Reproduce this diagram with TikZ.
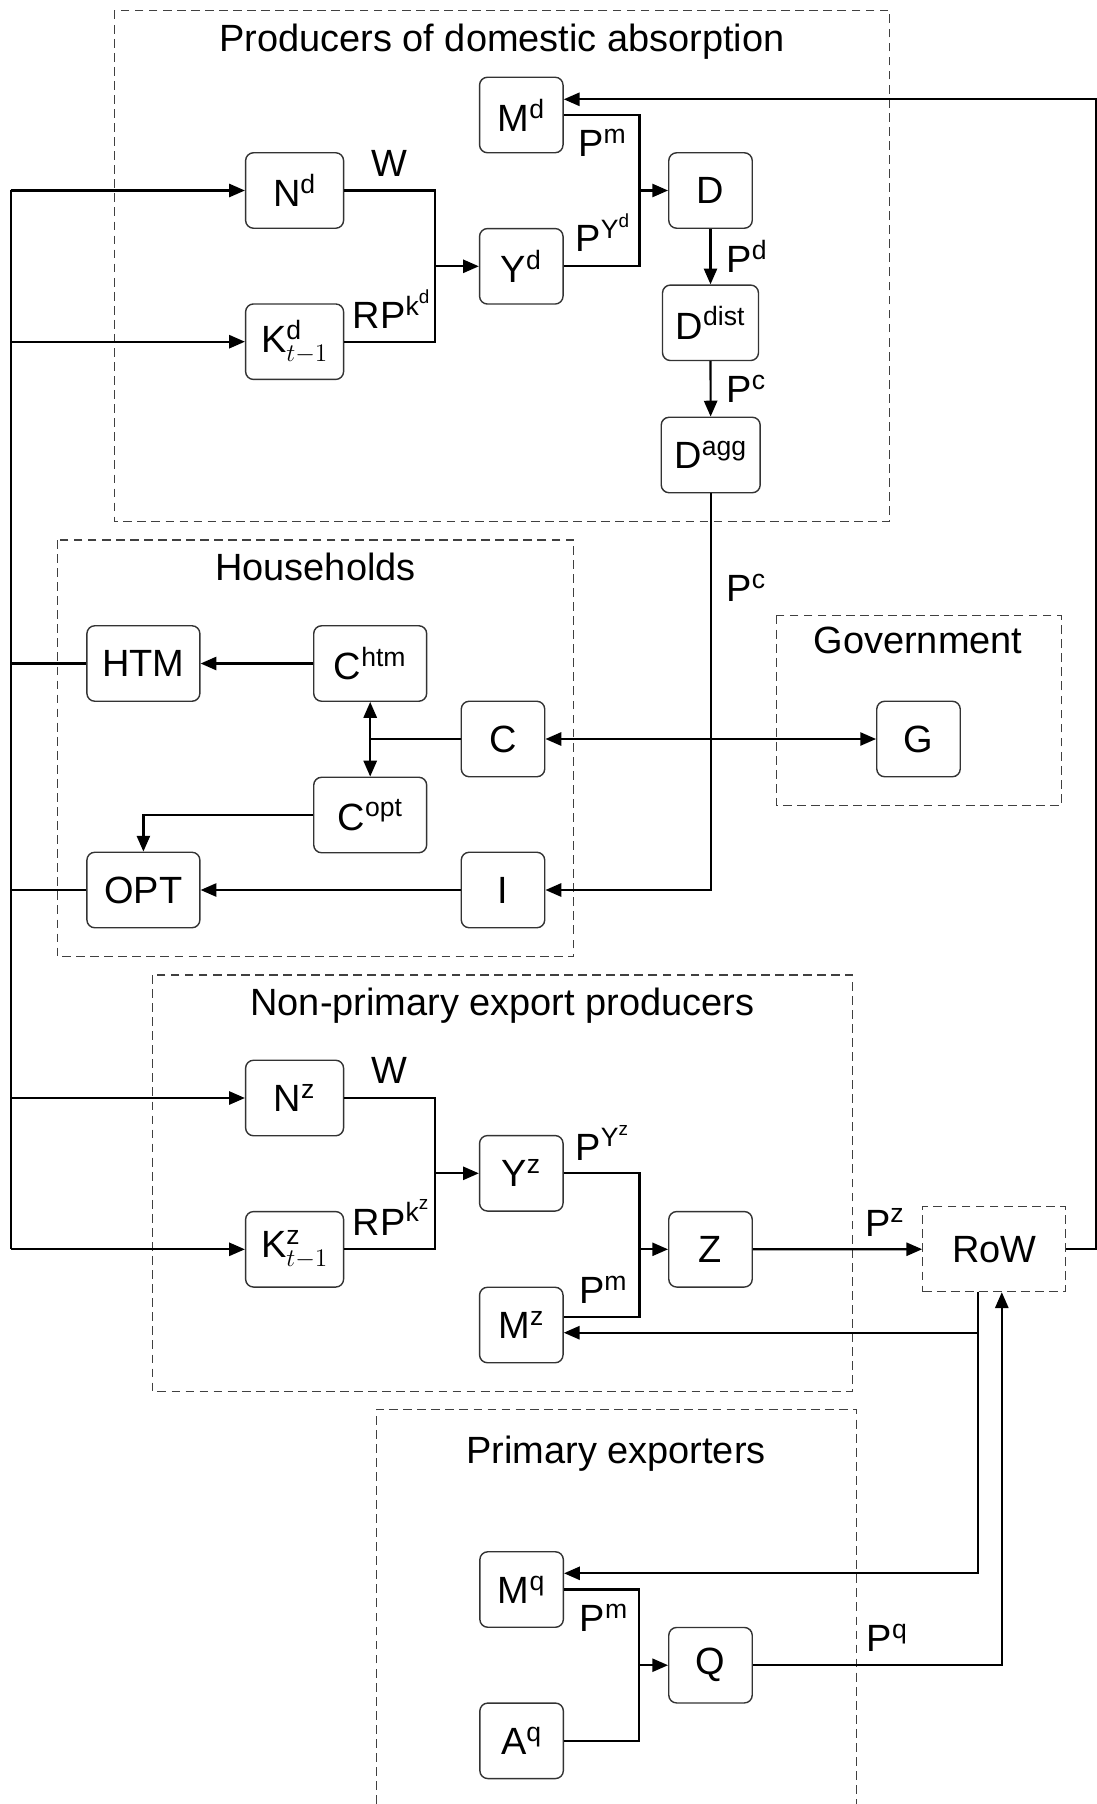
\documentclass[tikz,border=0pt]{standalone}
\usepackage{amsmath}
\usepackage[no-math]{fontspec}
\setmainfont{Liberation Sans}
\usetikzlibrary{arrows.meta,calc}
\newcommand{\up}[1]{$^{\text{#1}}$}
\begin{document}
\begin{tikzpicture}[x=0.02cm,y=-0.02cm,
    font=\fontsize{21.6}{25}\selectfont,
    line width=1.25pt,
    >={Triangle[length=9pt,width=7.5pt]},
    box/.style={draw=black!80,line width=0.8pt,rounded corners=4.5pt,minimum height=1.51cm,inner sep=0pt},
    boxsm/.style={box,minimum width=1.67cm},
    boxmd/.style={box,minimum width=1.96cm},
    boxlg/.style={box,minimum width=2.26cm},
    group/.style={draw=black!75,line width=0.6pt,dash pattern=on 5pt off 3pt},
    lbl/.style={inner sep=0pt}]
      \useasboundingbox (0,0) rectangle (1097,1804);
      \draw[group] (114.3,10.7) rectangle (889.9,521.7);
      \draw[group] (57.1,540) rectangle (573.7,956.7);
      \draw[group] (776.2,615.7) rectangle (1061.1,805.7);
      \draw[group] (152.5,975) rectangle (852.6,1391.7);
      \draw[group] (376.3,1804) -- (376.3,1409.3) -- (856.7,1409.3) -- (856.7,1804);
      \draw
        (502,51.7) node[lbl,anchor=base] (tdom){Producers of domestic absorption}
        (315.5,580) node[lbl,anchor=base] (thh){Households}
        (918,653) node[lbl,anchor=base] (tgov){Government}
        (502.5,1015) node[lbl,anchor=base] (tnp){Non-primary export producers}
        (616,1463.3) node[lbl,anchor=base] (tpe){Primary exporters};
      \draw
        (521.3,115) node[boxsm] (Md){M\up{d}}
        (294.6,190.5) node[boxmd] (Nd){N\up{d}}
        (521.3,266.3) node[boxsm] (Yd){Y\up{d}}
        (294.6,341.7) node[boxmd] (Kd){K$^{\text{d}}_{t-1}$}
        (710.5,190.5) node[boxsm] (D){D}
        (710.5,322.8) node[box,minimum width=1.92cm] (Ddist){D\up{dist}}
        (710.7,455) node[box,minimum width=1.98cm] (Dagg){D\up{agg}}
        (143.4,663.5) node[boxlg] (HTM){HTM}
        (370.2,663.5) node[boxlg] (Chtm){C\up{htm}}
        (503,739) node[boxsm] (C){C}
        (370.2,815) node[boxlg] (Copt){C\up{opt}}
        (143.4,890) node[boxlg] (OPT){OPT}
        (503,890) node[boxsm] (I){I}
        (918.5,739) node[boxsm] (G){G}
        (294.6,1098) node[boxmd] (Nz){N\up{z}}
        (521.3,1173.3) node[boxsm] (Yz){Y\up{z}}
        (294.6,1249.3) node[boxmd] (Kz){K$^{\text{z}}_{t-1}$}
        (521.3,1325) node[boxsm] (Mz){M\up{z}}
        (710.5,1249.3) node[boxsm] (Z){Z}
        (994.2,1249.2) node[group,minimum width=2.86cm,minimum height=1.7cm] (RoW){RoW}
        (521.6,1589.5) node[boxsm] (Mq){M\up{q}}
        (521.6,1740.8) node[boxsm] (Aq){A\up{q}}
        (710.5,1665.2) node[boxsm] (Q){Q};
      \draw
        (389,176.7) node[lbl,anchor=base] (wd){W}
        (351.8,328.3) node[lbl,anchor=base west] (rkd){RP$^{\text{k}^{\text{d}}}$}
        (577.3,156.7) node[lbl,anchor=base west] (pmd){P\up{m}}
        (574.5,251.7) node[lbl,anchor=base west] (pyd){P$^{\text{Y}^{\text{d}}}$}
        (725.4,272.7) node[lbl,anchor=base west] (pd){P\up{d}}
        (725.4,402.7) node[lbl,anchor=base west] (pc1){P\up{c}}
        (725.4,601.7) node[lbl,anchor=base west] (pc2){P\up{c}}
        (389,1083.3) node[lbl,anchor=base] (wz){W}
        (351.8,1235) node[lbl,anchor=base west] (rkz){RP$^{\text{k}^{\text{z}}}$}
        (574.5,1160) node[lbl,anchor=base west] (pyz){P$^{\text{Y}^{\text{z}}}$}
        (578,1303.3) node[lbl,anchor=base west] (pmz){P\up{m}}
        (864,1236) node[lbl,anchor=base west] (pz){P\up{z}}
        (578.6,1631.7) node[lbl,anchor=base west] (pmq){P\up{m}}
        (865.8,1651.7) node[lbl,anchor=base west] (pq){P\up{q}};
      \coordinate (bustop) at (10.7,190.5);
      \coordinate (busbot) at (10.7,1249.3);
      \coordinate (jd) at (435,266.3);
      \coordinate (jD) at (639.5,190.5);
      \coordinate (jC) at (370.2,739);
      \coordinate (jz) at (435,1173.3);
      \coordinate (jZ) at (639.5,1249.3);
      \coordinate (jQ) at (639.1,1665.2);
      \coordinate (edge) at (1096,99.3);
      \coordinate (rowm) at (978,1291.7);
      \coordinate (qin) at (1001.8,1665.2);
      \begin{scope}[-]
        \draw (bustop) to (busbot);
        \draw (HTM) to (HTM -| bustop);
        \draw (OPT) to (OPT -| bustop);
        \draw (Nd) -| (jd);
        \draw (Kd) -| (jd);
        \draw (Md) -| (jD);
        \draw (Yd) -| (jD);
        \draw (C) to (jC);
        \draw (Nz) -| (jz);
        \draw (Kz) -| (jz);
        \draw (Yz) -| (jZ);
        \draw ($(Mz.east)+(0,-7.7)$) -| (jZ);
        \draw (Mq) -| (jQ);
        \draw (Aq) -| (jQ);
      \end{scope}
      \begin{scope}[->]
        \draw (bustop) to (Nd);
        \draw (bustop |- Kd) to (Kd);
        \draw (bustop |- Nz) to (Nz);
        \draw (busbot) to (Kz);
        \draw (jd) to (Yd);
        \draw (jD) to (D);
        \draw (D) to (Ddist);
        \draw (Ddist) to (Dagg);
        \draw (Dagg) |- (I);
        \draw (Chtm) to (HTM);
        \draw (Copt) -| (OPT);
        \draw (I) to (OPT);
        \draw (jz) to (Yz);
        \draw (jZ) to (Z);
        \draw (Z) to (RoW);
        \draw (jQ) to (Q);
        \draw (RoW) -| (edge) -- (Md.east |- edge);
        \draw (rowm) |- ($(Mz.east)+(0,7.7)$);
        \draw (rowm) |- ($(Mq.east)+(0,-16.2)$);
        \draw (Q) -| (qin |- RoW.south);
      \end{scope}
      \begin{scope}[<->]
        \draw (Chtm) to (Copt);
        \draw (C) to (G);
      \end{scope}
    \end{tikzpicture}
\end{document}
